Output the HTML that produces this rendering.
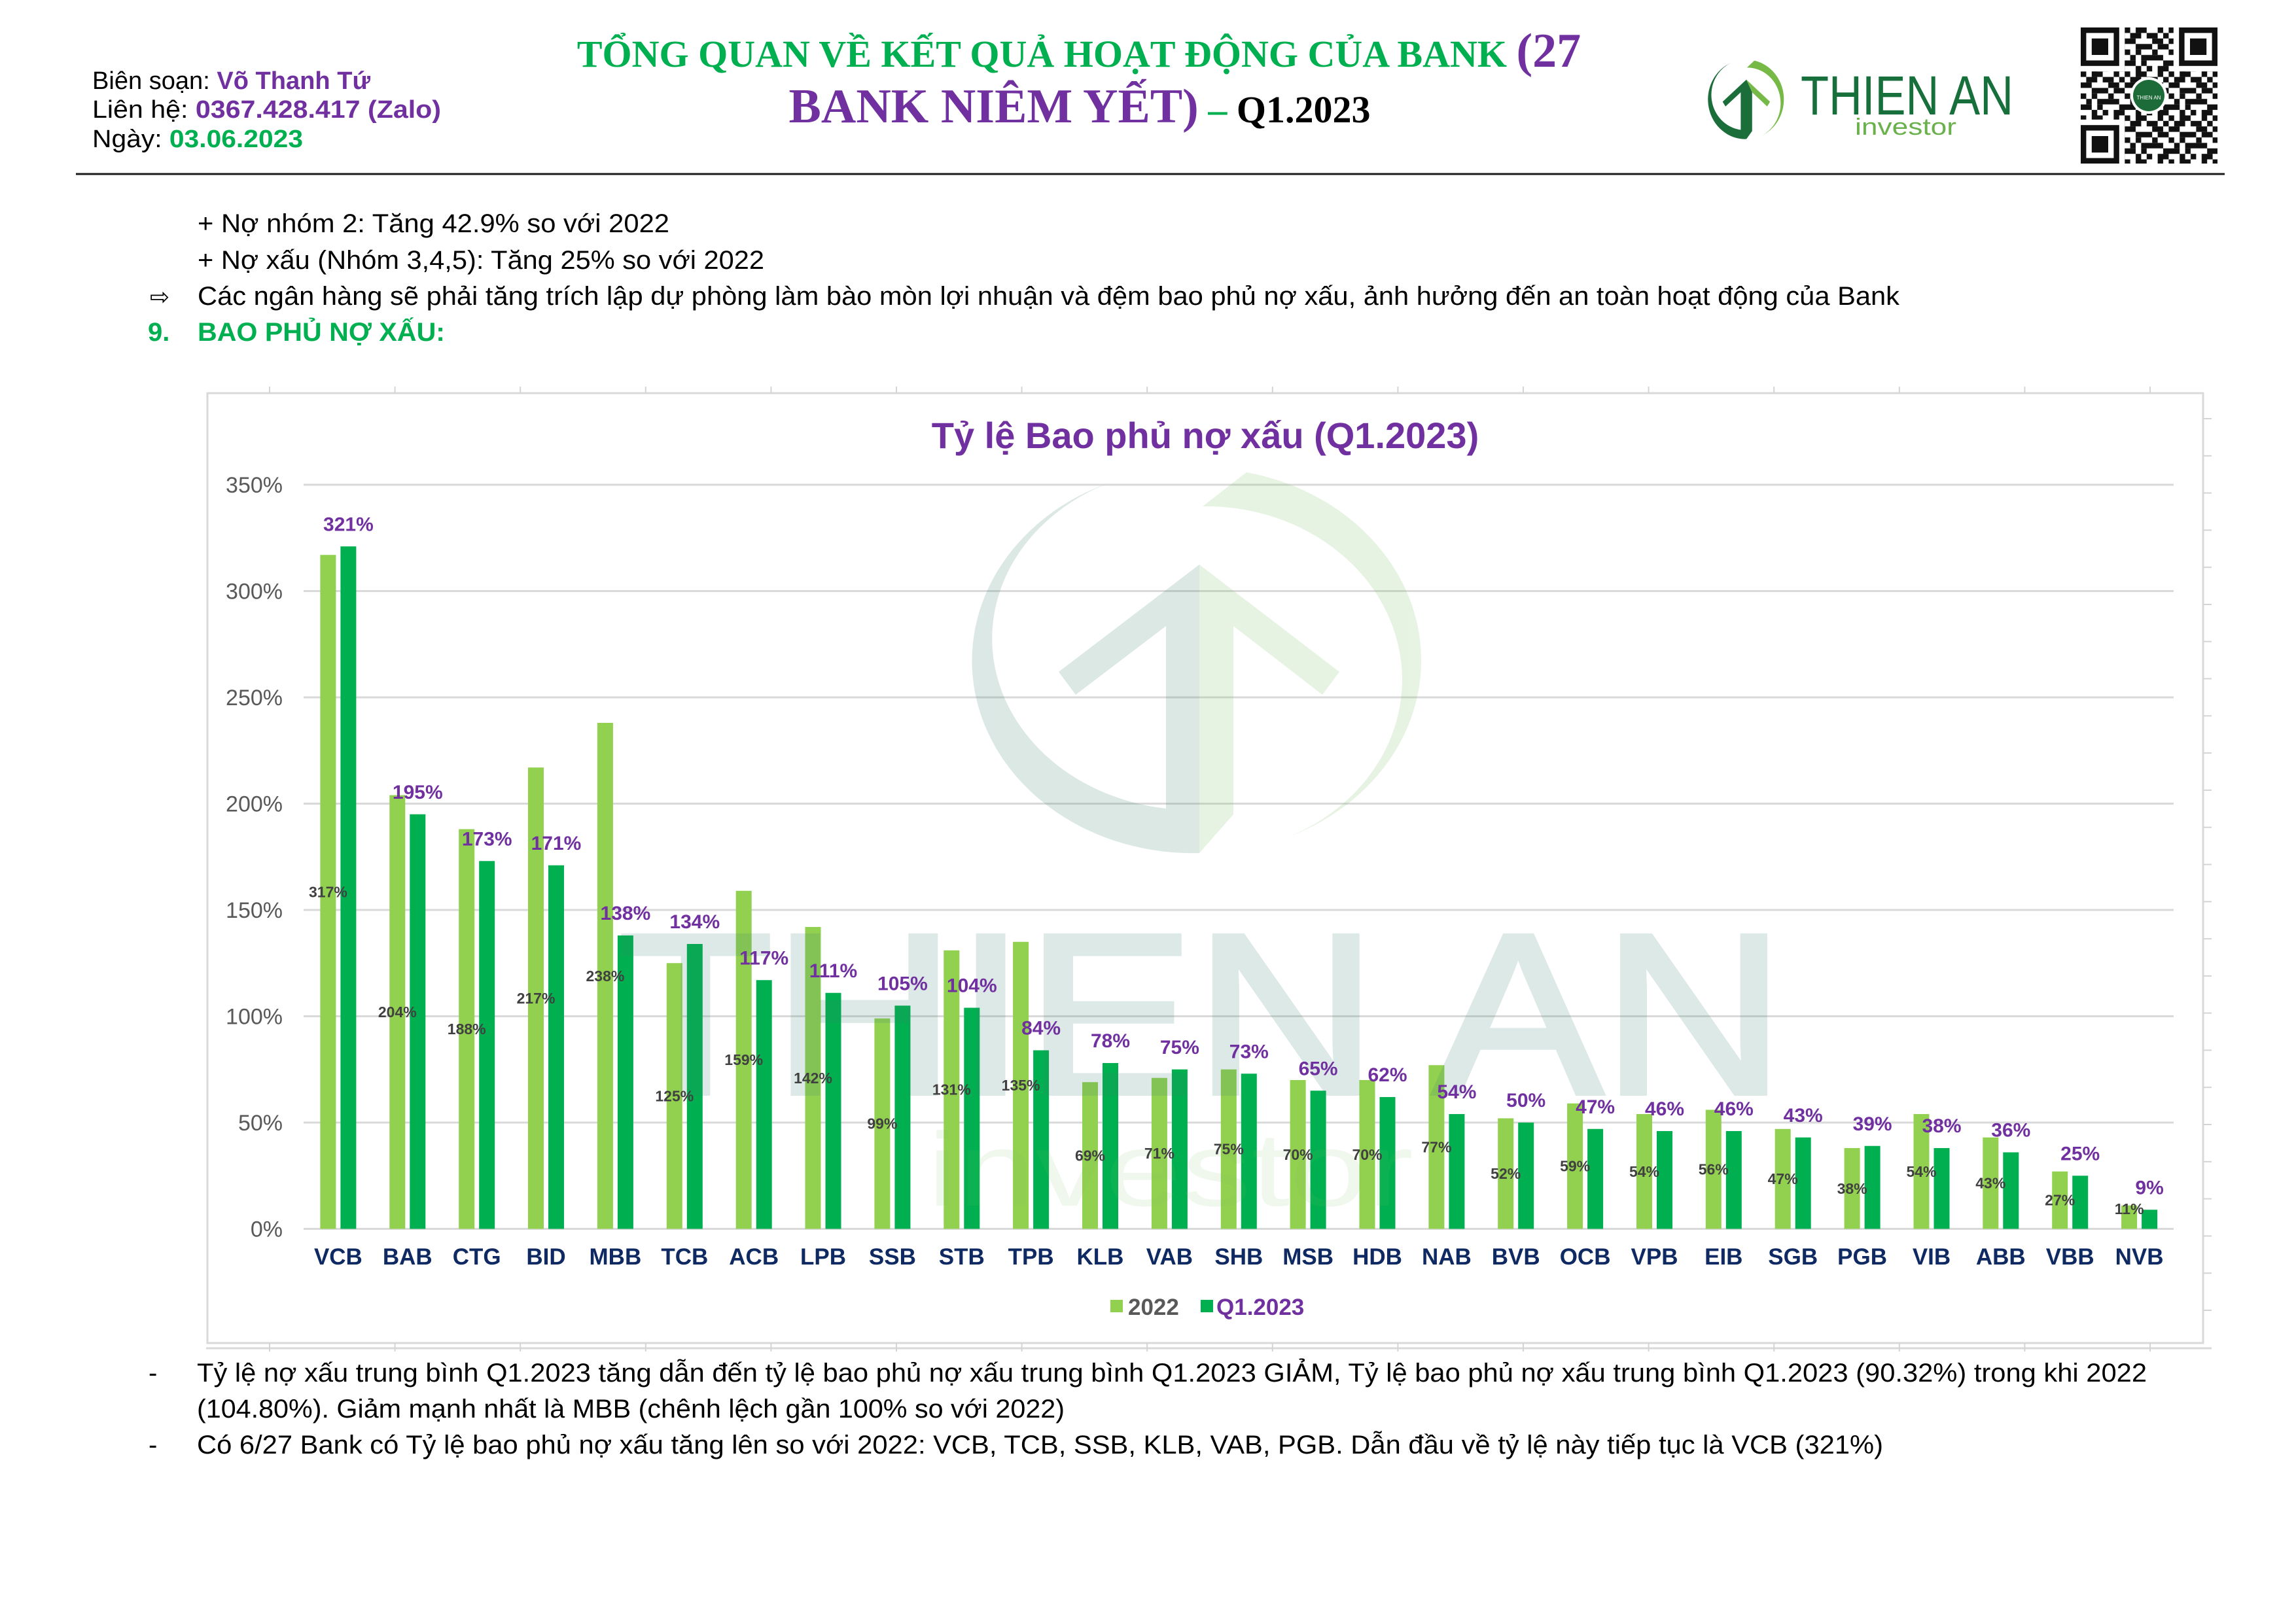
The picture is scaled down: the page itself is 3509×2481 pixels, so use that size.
<!DOCTYPE html>
<html>
<head>
<meta charset="utf-8">
<style>
html,body{margin:0;padding:0;background:#fff;}
svg{display:block;}
</style>
</head>
<body>
<svg xmlns="http://www.w3.org/2000/svg" width="3509" height="2481" viewBox="0 0 3509 2481">
<defs>
<pattern id="qr" x="3180" y="42" width="67.2" height="67.2" patternUnits="userSpaceOnUse">
<g transform="scale(8.4)" fill="#111">
<rect x="0" y="0" width="1" height="1"/><rect x="2" y="0" width="2" height="1"/><rect x="6" y="0" width="1" height="1"/>
<rect x="1" y="1" width="2" height="1"/><rect x="4" y="1" width="2" height="1"/><rect x="7" y="1" width="1" height="1"/>
<rect x="0" y="2" width="2" height="1"/><rect x="5" y="2" width="2" height="1"/>
<rect x="2" y="3" width="3" height="1"/><rect x="6" y="3" width="2" height="1"/>
<rect x="0" y="4" width="1" height="1"/><rect x="2" y="4" width="1" height="1"/><rect x="5" y="4" width="1" height="1"/>
<rect x="1" y="5" width="1" height="1"/><rect x="3" y="5" width="4" height="1"/>
<rect x="0" y="6" width="2" height="1"/><rect x="3" y="6" width="1" height="1"/><rect x="7" y="6" width="1" height="1"/>
<rect x="2" y="7" width="1" height="1"/><rect x="4" y="7" width="1" height="1"/><rect x="6" y="7" width="2" height="1"/>
</g>
</pattern>
</defs>

<rect x="0" y="0" width="3509" height="2481" fill="#fff"/>

<!-- Header left -->
<g font-family="Liberation Sans, Arial, sans-serif" font-size="38">
<text x="141" y="136" textLength="425" lengthAdjust="spacingAndGlyphs" fill="#000">Biên soạn: <tspan fill="#7030a0" font-weight="bold">Võ Thanh Tứ</tspan></text>
<text x="141" y="180" textLength="533" lengthAdjust="spacingAndGlyphs" fill="#000">Liên hệ: <tspan fill="#7030a0" font-weight="bold">0367.428.417 (Zalo)</tspan></text>
<text x="141" y="225" textLength="322" lengthAdjust="spacingAndGlyphs" fill="#000">Ngày: <tspan fill="#00b050" font-weight="bold">03.06.2023</tspan></text>
</g>

<!-- Title -->
<g font-family="Liberation Serif, 'Times New Roman', serif" font-weight="bold" text-anchor="middle">
<text x="1649" y="102"><tspan fill="#00b050" font-size="58">TỔNG QUAN VỀ KẾT QUẢ HOẠT ĐỘNG CỦA BANK </tspan><tspan fill="#7030a0" font-size="74">(27</tspan></text>
<text x="1650" y="187"><tspan fill="#7030a0" font-size="74">BANK NIÊM YẾT)</tspan><tspan fill="#00b050" font-size="58"> – </tspan><tspan fill="#000" font-size="58">Q1.2023</tspan></text>
</g>

<!-- Header logo -->
<g transform="translate(2669,152) scale(0.169,0.206) translate(-1833,-1010)">
<path fill="#1b6e3a" d="M1695,738 A337,294 0 0 0 1833,1304 L1782,1236 A306,262 0 0 1 1695,738 Z"/>
<path fill="#1b6e3a" d="M1833,863 L1618,1027 L1644,1062 L1782,957 L1782,1240 L1833,1304 Z"/>
<path fill="#1b6e3a" d="M1833,863 L1833,1304 L1885,1245 L1885,957 Z"/>
<path fill="#76b947" d="M1833,863 L2047,1027 L2021,1062 L1885,957 Z"/>
<path fill="#76b947" d="M1838,774 L1905,722 A337,294 0 0 1 1970,1279 A300,265 0 0 0 1838,774 Z"/>
</g>
<text x="2752" y="175" font-family="Liberation Sans, Arial, sans-serif" font-size="84" textLength="325" lengthAdjust="spacingAndGlyphs" fill="#17703c">THIEN AN</text>
<text x="2835" y="206" font-family="Liberation Sans, Arial, sans-serif" font-size="36" textLength="155" lengthAdjust="spacingAndGlyphs" fill="#6ab04c">investor</text>

<!-- QR -->
<rect x="3180" y="42" width="209" height="208" fill="url(#qr)"/>
<g>
<rect x="3180" y="42" width="67.2" height="67.2" fill="#fff"/>
<rect x="3180" y="42" width="58.8" height="58.8" fill="#111"/>
<rect x="3188.4" y="50.4" width="42" height="42" fill="#fff"/>
<rect x="3196.8" y="58.8" width="25.2" height="25.2" fill="#111"/>
<rect x="3321.8" y="42" width="67.2" height="67.2" fill="#fff"/>
<rect x="3330.2" y="42" width="58.8" height="58.8" fill="#111"/>
<rect x="3338.6" y="50.4" width="42" height="42" fill="#fff"/>
<rect x="3347" y="58.8" width="25.2" height="25.2" fill="#111"/>
<rect x="3180" y="182.8" width="67.2" height="67.2" fill="#fff"/>
<rect x="3180" y="191.2" width="58.8" height="58.8" fill="#111"/>
<rect x="3188.4" y="199.6" width="42" height="42" fill="#fff"/>
<rect x="3196.8" y="208" width="25.2" height="25.2" fill="#111"/>
<circle cx="3284" cy="146" r="28" fill="#fff"/>
<circle cx="3284" cy="146" r="24" fill="#1e6b3a"/>
<text x="3284" y="152" text-anchor="middle" font-family="Liberation Sans, Arial, sans-serif" font-size="8" fill="#fff">THIEN AN</text>
</g>

<!-- Header rule -->
<line x1="116" y1="266" x2="3400" y2="266" stroke="#1a1a1a" stroke-width="3"/>

<!-- Body text top -->
<g font-family="Liberation Sans, Arial, sans-serif" font-size="40" fill="#000">
<text x="302" y="355" textLength="721" lengthAdjust="spacingAndGlyphs">+ Nợ nhóm 2: Tăng 42.9% so với 2022</text>
<text x="302" y="411" textLength="866" lengthAdjust="spacingAndGlyphs">+ Nợ xấu (Nhóm 3,4,5): Tăng 25% so với 2022</text>
<text x="229" y="466" font-family="DejaVu Sans, sans-serif" font-size="36">⇨</text>
<text x="302" y="466" textLength="2601" lengthAdjust="spacingAndGlyphs">Các ngân hàng sẽ phải tăng trích lập dự phòng làm bào mòn lợi nhuận và đệm bao phủ nợ xấu, ảnh hưởng đến an toàn hoạt động của Bank</text>
<text x="226" y="521" font-weight="bold" fill="#00b050">9.</text>
<text x="302" y="521" font-weight="bold" fill="#00b050" textLength="378" lengthAdjust="spacingAndGlyphs">BAO PHỦ NỢ XẤU:</text>
</g>

<!-- Chart frame -->
<g stroke="#d9d9d9" fill="none">
<rect x="317" y="601" width="3050" height="1452" stroke-width="3"/>
<line x1="315" y1="2061" x2="3380" y2="2061" stroke-width="3"/>
</g>
<g stroke="#d4d4d4" stroke-width="2">
<line x1="412" y1="591" x2="412" y2="601"/><line x1="603.6" y1="591" x2="603.6" y2="601"/><line x1="795.2" y1="591" x2="795.2" y2="601"/><line x1="986.8" y1="591" x2="986.8" y2="601"/><line x1="1178.4" y1="591" x2="1178.4" y2="601"/><line x1="1370" y1="591" x2="1370" y2="601"/><line x1="1561.6" y1="591" x2="1561.6" y2="601"/><line x1="1753.2" y1="591" x2="1753.2" y2="601"/><line x1="1944.8" y1="591" x2="1944.8" y2="601"/><line x1="2136.4" y1="591" x2="2136.4" y2="601"/><line x1="2328" y1="591" x2="2328" y2="601"/><line x1="2519.6" y1="591" x2="2519.6" y2="601"/><line x1="2711.2" y1="591" x2="2711.2" y2="601"/><line x1="2902.8" y1="591" x2="2902.8" y2="601"/><line x1="3094.4" y1="591" x2="3094.4" y2="601"/><line x1="3286" y1="591" x2="3286" y2="601"/>
<line x1="412" y1="2053" x2="412" y2="2066"/><line x1="603.6" y1="2053" x2="603.6" y2="2066"/><line x1="795.2" y1="2053" x2="795.2" y2="2066"/><line x1="986.8" y1="2053" x2="986.8" y2="2066"/><line x1="1178.4" y1="2053" x2="1178.4" y2="2066"/><line x1="1370" y1="2053" x2="1370" y2="2066"/><line x1="1561.6" y1="2053" x2="1561.6" y2="2066"/><line x1="1753.2" y1="2053" x2="1753.2" y2="2066"/><line x1="1944.8" y1="2053" x2="1944.8" y2="2066"/><line x1="2136.4" y1="2053" x2="2136.4" y2="2066"/><line x1="2328" y1="2053" x2="2328" y2="2066"/><line x1="2519.6" y1="2053" x2="2519.6" y2="2066"/><line x1="2711.2" y1="2053" x2="2711.2" y2="2066"/><line x1="2902.8" y1="2053" x2="2902.8" y2="2066"/><line x1="3094.4" y1="2053" x2="3094.4" y2="2066"/><line x1="3286" y1="2053" x2="3286" y2="2066"/>
<line x1="3367" y1="640" x2="3380" y2="640"/><line x1="3367" y1="696.8" x2="3380" y2="696.8"/><line x1="3367" y1="753.6" x2="3380" y2="753.6"/><line x1="3367" y1="810.4" x2="3380" y2="810.4"/><line x1="3367" y1="867.2" x2="3380" y2="867.2"/><line x1="3367" y1="924" x2="3380" y2="924"/><line x1="3367" y1="980.7" x2="3380" y2="980.7"/><line x1="3367" y1="1037.5" x2="3380" y2="1037.5"/><line x1="3367" y1="1094.3" x2="3380" y2="1094.3"/><line x1="3367" y1="1151.1" x2="3380" y2="1151.1"/><line x1="3367" y1="1207.9" x2="3380" y2="1207.9"/><line x1="3367" y1="1264.7" x2="3380" y2="1264.7"/><line x1="3367" y1="1321.5" x2="3380" y2="1321.5"/><line x1="3367" y1="1378.3" x2="3380" y2="1378.3"/><line x1="3367" y1="1435.1" x2="3380" y2="1435.1"/><line x1="3367" y1="1491.9" x2="3380" y2="1491.9"/><line x1="3367" y1="1548.6" x2="3380" y2="1548.6"/><line x1="3367" y1="1605.4" x2="3380" y2="1605.4"/><line x1="3367" y1="1662.2" x2="3380" y2="1662.2"/><line x1="3367" y1="1719" x2="3380" y2="1719"/><line x1="3367" y1="1775.8" x2="3380" y2="1775.8"/><line x1="3367" y1="1832.6" x2="3380" y2="1832.6"/><line x1="3367" y1="1889.4" x2="3380" y2="1889.4"/><line x1="3367" y1="1946.2" x2="3380" y2="1946.2"/><line x1="3367" y1="2003" x2="3380" y2="2003"/>
</g>

<!-- Chart title -->
<text x="1842" y="685" text-anchor="middle" font-family="Liberation Sans, Arial, sans-serif" font-weight="bold" font-size="56" fill="#7030a0">Tỷ lệ Bao phủ nợ xấu (Q1.2023)</text>

<!-- Gridlines -->
<g stroke="#d9d9d9" stroke-width="3">
<line x1="464" y1="741" x2="3322" y2="741"/>
<line x1="464" y1="903.5" x2="3322" y2="903.5"/>
<line x1="464" y1="1066" x2="3322" y2="1066"/>
<line x1="464" y1="1228.5" x2="3322" y2="1228.5"/>
<line x1="464" y1="1391" x2="3322" y2="1391"/>
<line x1="464" y1="1553.5" x2="3322" y2="1553.5"/>
<line x1="464" y1="1716" x2="3322" y2="1716"/>
<line x1="464" y1="1878.5" x2="3322" y2="1878.5"/>
</g>

<!-- Y labels -->
<g font-family="Liberation Sans, Arial, sans-serif" font-size="34" fill="#595959" text-anchor="end">
<text x="432" y="753">350%</text>
<text x="432" y="915.5">300%</text>
<text x="432" y="1078">250%</text>
<text x="432" y="1240.5">200%</text>
<text x="432" y="1403">150%</text>
<text x="432" y="1565.5">100%</text>
<text x="432" y="1728">50%</text>
<text x="432" y="1890.5">0%</text>
</g>

<!-- Bars 2022 -->
<g fill="#92d050">
<rect x="489.4" y="848.25" width="24" height="1030.25"/>
<rect x="595.3" y="1215.5" width="24" height="663"/>
<rect x="701.2" y="1267.5" width="24" height="611"/>
<rect x="807.0" y="1173.25" width="24" height="705.25"/>
<rect x="912.9" y="1105" width="24" height="773.5"/>
<rect x="1018.8" y="1472.25" width="24" height="406.25"/>
<rect x="1124.7" y="1361.75" width="24" height="516.75"/>
<rect x="1230.5" y="1417" width="24" height="461.5"/>
<rect x="1336.4" y="1556.75" width="24" height="321.75"/>
<rect x="1442.3" y="1452.75" width="24" height="425.75"/>
<rect x="1548.1" y="1439.75" width="24" height="438.75"/>
<rect x="1654.0" y="1654.25" width="24" height="224.25"/>
<rect x="1759.9" y="1647.75" width="24" height="230.75"/>
<rect x="1865.8" y="1634.75" width="24" height="243.75"/>
<rect x="1971.6" y="1651" width="24" height="227.5"/>
<rect x="2077.5" y="1651" width="24" height="227.5"/>
<rect x="2183.4" y="1628.25" width="24" height="250.25"/>
<rect x="2289.2" y="1709.5" width="24" height="169"/>
<rect x="2395.1" y="1686.75" width="24" height="191.75"/>
<rect x="2501.0" y="1703" width="24" height="175.5"/>
<rect x="2606.8" y="1696.5" width="24" height="182"/>
<rect x="2712.7" y="1725.75" width="24" height="152.75"/>
<rect x="2818.6" y="1755" width="24" height="123.5"/>
<rect x="2924.5" y="1703" width="24" height="175.5"/>
<rect x="3030.3" y="1738.75" width="24" height="139.75"/>
<rect x="3136.2" y="1790.75" width="24" height="87.75"/>
<rect x="3242.1" y="1842.75" width="24" height="35.75"/>
</g>
<!-- Bars Q1.2023 -->
<g fill="#00b050">
<rect x="520.4" y="835.25" width="24" height="1043.25"/>
<rect x="626.3" y="1244.75" width="24" height="633.75"/>
<rect x="732.2" y="1316.25" width="24" height="562.25"/>
<rect x="838.0" y="1322.75" width="24" height="555.75"/>
<rect x="943.9" y="1430" width="24" height="448.5"/>
<rect x="1049.8" y="1443" width="24" height="435.5"/>
<rect x="1155.7" y="1498.25" width="24" height="380.25"/>
<rect x="1261.5" y="1517.75" width="24" height="360.75"/>
<rect x="1367.4" y="1537.25" width="24" height="341.25"/>
<rect x="1473.3" y="1540.5" width="24" height="338"/>
<rect x="1579.1" y="1605.5" width="24" height="273"/>
<rect x="1685.0" y="1625" width="24" height="253.5"/>
<rect x="1790.9" y="1634.75" width="24" height="243.75"/>
<rect x="1896.8" y="1641.25" width="24" height="237.25"/>
<rect x="2002.6" y="1667.25" width="24" height="211.25"/>
<rect x="2108.5" y="1677" width="24" height="201.5"/>
<rect x="2214.4" y="1703" width="24" height="175.5"/>
<rect x="2320.2" y="1716" width="24" height="162.5"/>
<rect x="2426.1" y="1725.75" width="24" height="152.75"/>
<rect x="2532.0" y="1729" width="24" height="149.5"/>
<rect x="2637.8" y="1729" width="24" height="149.5"/>
<rect x="2743.7" y="1738.75" width="24" height="139.75"/>
<rect x="2849.6" y="1751.75" width="24" height="126.75"/>
<rect x="2955.5" y="1755" width="24" height="123.5"/>
<rect x="3061.3" y="1761.5" width="24" height="117"/>
<rect x="3167.2" y="1797.25" width="24" height="81.25"/>
<rect x="3273.1" y="1849.25" width="24" height="29.25"/>
</g>

<!-- Watermark -->
<g opacity="0.18">
<path fill="#3c826e" d="M1695,738 A337,294 0 0 0 1833,1304 L1782,1236 A306,262 0 0 1 1695,738 Z"/>
<path fill="#3c826e" d="M1833,863 L1618,1027 L1644,1062 L1782,957 L1782,1240 L1833,1304 Z"/>
</g>
<g opacity="0.17">
<path fill="#78be5a" d="M1833,863 L2047,1027 L2021,1062 L1885,957 L1885,1245 L1833,1304 Z"/>
<path fill="#78be5a" d="M1838,774 L1905,722 A337,294 0 0 1 1970,1279 A300,265 0 0 0 1838,774 Z"/>
</g>
<g opacity="0.17">
<text x="945" y="1671" font-family="Liberation Sans, Arial, sans-serif" font-size="349" textLength="1783" lengthAdjust="spacingAndGlyphs" fill="#3c826e" stroke="#3c826e" stroke-width="8">THIEN AN</text>
</g>
<g opacity="0.1">
<text x="1417" y="1843" font-family="Liberation Sans, Arial, sans-serif" font-size="160" textLength="743" lengthAdjust="spacingAndGlyphs" fill="#78be5a">investor</text>
</g>

<!-- Q1.2023 value labels -->
<g font-family="Liberation Sans, Arial, sans-serif" font-weight="bold" font-size="30" fill="#7030a0" text-anchor="middle">
<text x="532.4" y="811.25">321%</text>
<text x="638.3" y="1220.75">195%</text>
<text x="744.2" y="1292.25">173%</text>
<text x="850.0" y="1298.75">171%</text>
<text x="955.9" y="1406">138%</text>
<text x="1061.8" y="1419">134%</text>
<text x="1167.7" y="1474.25">117%</text>
<text x="1273.5" y="1493.75">111%</text>
<text x="1379.4" y="1513.25">105%</text>
<text x="1485.3" y="1516.5">104%</text>
<text x="1591.1" y="1581.5">84%</text>
<text x="1697.0" y="1601">78%</text>
<text x="1802.9" y="1610.75">75%</text>
<text x="1908.8" y="1617.25">73%</text>
<text x="2014.6" y="1643.25">65%</text>
<text x="2120.5" y="1653">62%</text>
<text x="2226.4" y="1679">54%</text>
<text x="2332.2" y="1692">50%</text>
<text x="2438.1" y="1701.75">47%</text>
<text x="2544.0" y="1705">46%</text>
<text x="2649.8" y="1705">46%</text>
<text x="2755.7" y="1714.75">43%</text>
<text x="2861.6" y="1727.75">39%</text>
<text x="2967.5" y="1731">38%</text>
<text x="3073.3" y="1737.5">36%</text>
<text x="3179.2" y="1773.25">25%</text>
<text x="3285.1" y="1825.25">9%</text>
</g>

<!-- 2022 value labels -->
<g font-family="Liberation Sans, Arial, sans-serif" font-weight="bold" font-size="23" fill="#404040" text-anchor="middle">
<text x="501.4" y="1371.4">317%</text>
<text x="607.3" y="1555">204%</text>
<text x="713.2" y="1581">188%</text>
<text x="819.0" y="1533.9">217%</text>
<text x="924.9" y="1499.75">238%</text>
<text x="1030.8" y="1683.4">125%</text>
<text x="1136.7" y="1628.1">159%</text>
<text x="1242.5" y="1655.75">142%</text>
<text x="1348.4" y="1725.6">99%</text>
<text x="1454.3" y="1673.6">131%</text>
<text x="1560.1" y="1667.1">135%</text>
<text x="1666.0" y="1774.4">69%</text>
<text x="1771.9" y="1771.1">71%</text>
<text x="1877.8" y="1764.6">75%</text>
<text x="1983.6" y="1772.75">70%</text>
<text x="2089.5" y="1772.75">70%</text>
<text x="2195.4" y="1761.4">77%</text>
<text x="2301.2" y="1802">52%</text>
<text x="2407.1" y="1790.6">59%</text>
<text x="2513.0" y="1798.75">54%</text>
<text x="2618.8" y="1795.5">56%</text>
<text x="2724.7" y="1810.1">47%</text>
<text x="2830.6" y="1824.75">38%</text>
<text x="2936.5" y="1798.75">54%</text>
<text x="3042.3" y="1816.6">43%</text>
<text x="3148.2" y="1842.6">27%</text>
<text x="3254.1" y="1856">11%</text>
</g>

<!-- X labels -->
<g font-family="Liberation Sans, Arial, sans-serif" font-weight="bold" font-size="35" fill="#0f2a62" text-anchor="middle">
<text x="516.9" y="1933">VCB</text>
<text x="622.8" y="1933">BAB</text>
<text x="728.7" y="1933">CTG</text>
<text x="834.5" y="1933">BID</text>
<text x="940.4" y="1933">MBB</text>
<text x="1046.3" y="1933">TCB</text>
<text x="1152.2" y="1933">ACB</text>
<text x="1258.0" y="1933">LPB</text>
<text x="1363.9" y="1933">SSB</text>
<text x="1469.8" y="1933">STB</text>
<text x="1575.6" y="1933">TPB</text>
<text x="1681.5" y="1933">KLB</text>
<text x="1787.4" y="1933">VAB</text>
<text x="1893.3" y="1933">SHB</text>
<text x="1999.1" y="1933">MSB</text>
<text x="2105.0" y="1933">HDB</text>
<text x="2210.9" y="1933">NAB</text>
<text x="2316.7" y="1933">BVB</text>
<text x="2422.6" y="1933">OCB</text>
<text x="2528.5" y="1933">VPB</text>
<text x="2634.3" y="1933">EIB</text>
<text x="2740.2" y="1933">SGB</text>
<text x="2846.1" y="1933">PGB</text>
<text x="2952.0" y="1933">VIB</text>
<text x="3057.8" y="1933">ABB</text>
<text x="3163.7" y="1933">VBB</text>
<text x="3269.6" y="1933">NVB</text>
</g>

<!-- Legend -->
<rect x="1697" y="1987" width="19" height="19" fill="#92d050"/>
<text x="1724" y="2010" font-family="Liberation Sans, Arial, sans-serif" font-weight="bold" font-size="35" fill="#595959">2022</text>
<rect x="1835" y="1987" width="19" height="19" fill="#00b050"/>
<text x="1859" y="2010" font-family="Liberation Sans, Arial, sans-serif" font-weight="bold" font-size="35" fill="#7030a0">Q1.2023</text>

<!-- Bottom text -->
<g font-family="Liberation Sans, Arial, sans-serif" font-size="40" fill="#000">
<text x="227" y="2112">-</text>
<text x="301" y="2112" textLength="2980" lengthAdjust="spacingAndGlyphs">Tỷ lệ nợ xấu trung bình Q1.2023 tăng dẫn đến tỷ lệ bao phủ nợ xấu trung bình Q1.2023 GIẢM, Tỷ lệ bao phủ nợ xấu trung bình Q1.2023 (90.32%) trong khi 2022</text>
<text x="301" y="2167" textLength="1326" lengthAdjust="spacingAndGlyphs">(104.80%). Giảm mạnh nhất là MBB (chênh lệch gần 100% so với 2022)</text>
<text x="227" y="2222">-</text>
<text x="301" y="2222" textLength="2577" lengthAdjust="spacingAndGlyphs">Có 6/27 Bank có Tỷ lệ bao phủ nợ xấu tăng lên so với 2022: VCB, TCB, SSB, KLB, VAB, PGB. Dẫn đầu về tỷ lệ này tiếp tục là VCB (321%)</text>
</g>
</svg>
</body>
</html>
